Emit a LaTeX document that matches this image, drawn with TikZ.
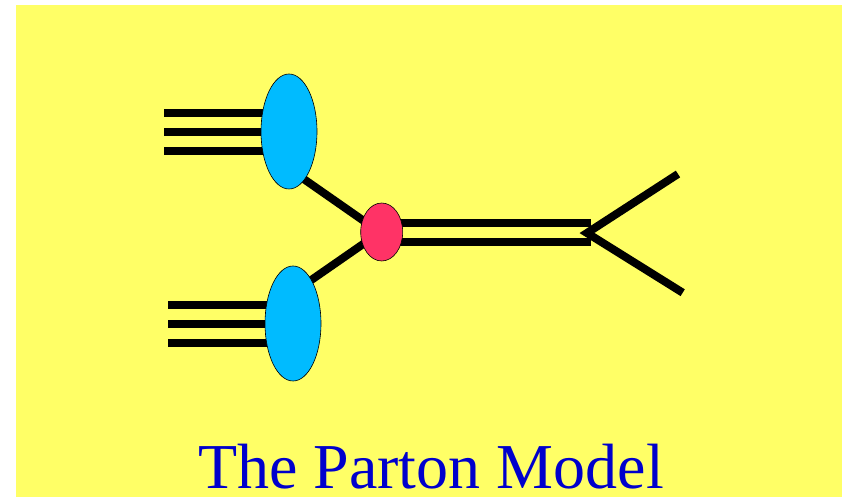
\documentclass[tikz,border=0pt]{standalone}
\usepackage{fontspec}
\setmainfont{Liberation Serif}
\usetikzlibrary{shapes.geometric,backgrounds}
\definecolor{bgyellow}{HTML}{FFFF66}
\definecolor{blobblue}{HTML}{00BBFF}
\definecolor{vertexred}{HTML}{FF3366}
\definecolor{titleblue}{HTML}{0000CC}
\tikzset{
  blob/.style={ellipse, draw=black, line width=0.6pt, fill=blobblue, inner sep=0pt, minimum width=56pt, minimum height=115pt},
  vtx/.style={ellipse, draw=black, line width=0.6pt, fill=vertexred, inner sep=0pt, minimum width=42pt, minimum height=58pt},
  thick line/.style={line width=8pt, black},
}
\begin{document}
\begin{tikzpicture}[x=1pt,y=-1pt]
\useasboundingbox (0,0) rectangle (844,497);
\node[blob] (A) at (289,131.5) {};
\node[blob] (B) at (293,323.5) {};
\node[vtx] (R) at (381.7,232) {};
\coordinate (a1) at (164,112.7);
\coordinate (a2) at (164,131.7);
\coordinate (a3) at (164,150.7);
\coordinate (b1) at (168,305);
\coordinate (b2) at (168,324);
\coordinate (b3) at (168,343);
\coordinate (d1) at (591,222.7);
\coordinate (d2) at (591,241.7);
\coordinate (v) at (587,233);
\coordinate (vu) at (678,174);
\coordinate (vl) at (682.7,292.7);
\node[font=\fontsize{64}{70}\selectfont, text=titleblue, anchor=base, inner sep=0pt, text depth=0pt] (title) at (431,488) {The Parton Model};
\begin{pgfonlayer}{background}
\fill[bgyellow] (16,5) rectangle (842,497);
\foreach \c in {a1,a2,a3}{\draw[thick line] (\c) -- (\c -| A.center);}
\foreach \c in {b1,b2,b3}{\draw[thick line] (\c) -- (\c -| B.center);}
\draw[thick line, shorten <=-4pt, shorten >=-4pt] (A.-72) -- (R.148);
\draw[thick line, shorten <=-4pt, shorten >=-4pt] (B.67) -- (R.213);
\draw[thick line] (d1 -| R.center) -- (d1);
\draw[thick line] (d2 -| R.center) -- (d2);
\draw[thick line, line join=miter] (vu) -- (v) -- (vl);
\end{pgfonlayer}
\end{tikzpicture}
\end{document}
